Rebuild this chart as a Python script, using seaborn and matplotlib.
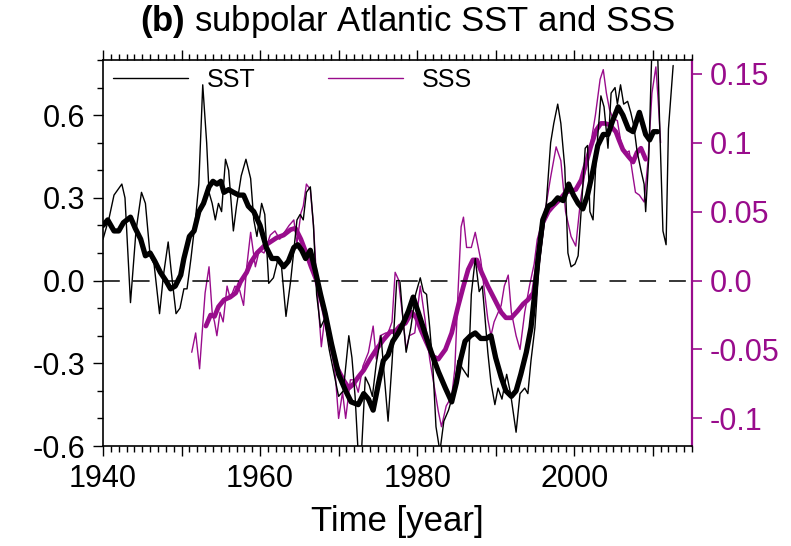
import matplotlib
matplotlib.use("Agg")
import matplotlib.pyplot as plt
import seaborn as sns
from matplotlib.ticker import MultipleLocator, FixedLocator

# ---------------- data ----------------
sst_yr = [1940.0, 1940.8, 1941.4, 1942.4, 1942.8, 1943.5, 1944.2, 1944.9, 1945.4, 1946.0,
          1946.5, 1947.2, 1947.7, 1948.3, 1948.7, 1949.3, 1949.8, 1950.3, 1950.7, 1951.2,
          1951.8, 1952.2, 1952.7, 1953.2, 1953.5, 1953.9, 1954.3, 1954.7, 1955.1, 1955.6,
          1956.0, 1956.6, 1957.0, 1957.6, 1958.2, 1958.8, 1959.2, 1959.6, 1960.2, 1960.6,
          1961.1, 1961.7, 1962.3, 1962.7, 1963.3, 1963.9, 1964.7, 1965.1, 1965.5, 1965.9,
          1966.4, 1966.8, 1967.2, 1967.7, 1968.2, 1968.8, 1969.5, 1970.0, 1970.6, 1971.3,
          1971.7, 1972.1, 1972.5, 1972.9, 1973.4, 1973.9, 1974.3, 1974.8, 1975.4, 1975.8,
          1976.3, 1976.8, 1977.4, 1977.8, 1978.2, 1978.6, 1979.2, 1979.8, 1980.4, 1980.8,
          1981.2, 1981.6, 1982.0, 1982.4, 1982.9, 1983.4, 1984.0, 1984.6, 1985.2, 1985.8,
          1986.5, 1986.9, 1987.4, 1987.9, 1988.3, 1988.6, 1989.0, 1989.4, 1989.9, 1990.3,
          1990.8, 1991.4, 1991.9, 1992.6, 1993.1, 1993.7, 1994.1, 1994.5, 1995.0, 1995.5,
          1996.4, 1997.0, 1997.4, 1997.9, 1998.3, 1998.8, 1999.2, 1999.6, 2000.1, 2000.5,
          2001.0, 2001.4, 2001.7, 2002.0, 2002.4, 2002.8, 2003.4, 2003.8, 2004.3, 2004.7,
          2005.2, 2005.5, 2005.9, 2006.3, 2006.8, 2007.2, 2007.6, 2008.0, 2008.5, 2008.9,
          2009.1, 2009.5, 2009.9, 2010.6, 2010.9, 2011.3, 2011.7, 2012.0, 2012.6]
sst = [0.15, 0.23, 0.31, 0.35, 0.30, -0.08, 0.18, 0.32, 0.28, 0.09,
       0.06, -0.12, 0.02, 0.14, 0.03, -0.12, -0.10, -0.03, -0.03, 0.08,
       0.23, 0.35, 0.71, 0.50, 0.32, 0.28, 0.22, 0.28, 0.25, 0.44,
       0.40, 0.18, 0.27, 0.38, 0.44, 0.37, 0.22, 0.16, 0.28, 0.24,
       -0.01, 0.01, 0.08, 0.06, -0.13, 0.00, 0.22, 0.24, 0.22, 0.32,
       0.34, 0.20, -0.05, -0.17, -0.14, -0.25, -0.35, -0.42, -0.40, -0.20,
       -0.28, -0.42, -0.63, -0.63, -0.35, -0.38, -0.42, -0.30, -0.20, -0.34,
       -0.51, -0.30, 0.00, 0.00, -0.14, -0.26, -0.17, -0.05, 0.01, -0.04,
       -0.05, -0.17, -0.31, -0.53, -0.62, -0.51, -0.47, -0.41, -0.29, -0.32,
       -0.35, -0.05, 0.08, -0.04, -0.02, -0.12, -0.26, -0.37, -0.45, -0.39,
       -0.43, -0.34, -0.41, -0.55, -0.41, -0.39, -0.41, -0.29, -0.17, 0.05,
       0.26, 0.50, 0.57, 0.64, 0.57, 0.41, 0.10, 0.05, 0.06, 0.09,
       0.30, 0.48, 0.49, 0.25, 0.22, 0.45, 0.67, 0.63, 0.48, 0.68,
       0.70, 0.64, 0.71, 0.64, 0.65, 0.61, 0.56, 0.47, 0.40, 0.35,
       0.25, 0.45, 0.85, 0.85, 0.55, 0.18, 0.13, 0.55, 0.78]

sst_smooth_yr = [1940.0, 1940.6, 1941.4, 1942.0, 1942.6, 1943.5, 1944.1, 1944.8, 1945.4, 1946.0,
                 1946.6, 1947.3, 1948.0, 1948.6, 1949.2, 1949.9, 1950.3, 1951.0, 1951.6, 1952.2,
                 1952.8, 1953.5, 1954.0, 1954.5, 1955.0, 1955.4, 1956.0, 1956.6, 1957.3, 1957.9,
                 1958.5, 1959.2, 1960.0, 1960.8, 1961.5, 1962.2, 1963.0, 1963.6, 1964.3, 1964.8,
                 1965.3, 1965.8, 1966.4, 1967.0, 1967.7, 1968.3, 1969.1, 1970.0, 1970.9, 1971.6,
                 1972.5, 1973.2, 1973.8, 1974.4, 1975.1, 1975.7, 1976.3, 1976.9, 1977.6, 1978.3,
                 1978.9, 1979.5, 1980.2, 1981.0, 1981.8, 1982.7, 1983.6, 1984.4, 1985.0, 1985.5,
                 1986.1, 1986.8, 1987.4, 1988.1, 1988.8, 1989.4, 1990.0, 1990.7, 1991.3, 1992.0,
                 1992.6, 1993.2, 1993.9, 1994.5, 1995.0, 1995.4, 1996.0, 1996.7, 1997.3, 1997.9,
                 1998.6, 1999.3, 1999.9, 2000.5, 2001.1, 2001.7, 2002.4, 2003.0, 2003.7, 2004.3,
                 2004.9, 2005.6, 2006.2, 2006.9, 2007.5, 2008.3, 2008.7, 2009.1, 2009.6, 2010.1,
                 2010.6]
sst_smooth = [0.20, 0.22, 0.18, 0.18, 0.21, 0.23, 0.19, 0.15, 0.09, 0.10,
              0.07, 0.03, 0.00, -0.03, -0.02, 0.02, 0.08, 0.16, 0.18, 0.25,
              0.28, 0.34, 0.36, 0.35, 0.36, 0.32, 0.33, 0.32, 0.31, 0.31,
              0.27, 0.25, 0.20, 0.12, 0.08, 0.08, 0.05, 0.07, 0.12, 0.13,
              0.11, 0.08, 0.11, 0.04, -0.05, -0.12, -0.23, -0.34, -0.40, -0.44,
              -0.45, -0.41, -0.43, -0.47, -0.37, -0.29, -0.27, -0.22, -0.19, -0.15,
              -0.11, -0.06, -0.12, -0.19, -0.26, -0.33, -0.39, -0.44, -0.37, -0.29,
              -0.22, -0.20, -0.19, -0.21, -0.21, -0.20, -0.28, -0.35, -0.40, -0.42,
              -0.40, -0.34, -0.26, -0.17, -0.04, 0.08, 0.22, 0.27, 0.28, 0.30,
              0.29, 0.35, 0.31, 0.28, 0.26, 0.31, 0.40, 0.49, 0.53, 0.53,
              0.58, 0.63, 0.60, 0.55, 0.54, 0.61, 0.57, 0.53, 0.51, 0.54,
              0.54]

sss_yr = [1951.3, 1951.8, 1952.3, 1952.6, 1953.0, 1953.5, 1953.9, 1954.2, 1954.5, 1954.9,
          1955.3, 1955.8, 1956.2, 1956.8, 1957.4, 1957.9, 1958.3, 1958.8, 1959.4, 1959.9,
          1960.5, 1961.3, 1961.9, 1962.5, 1963.1, 1963.7, 1964.3, 1964.7, 1965.2, 1965.5,
          1965.9, 1966.4, 1966.8, 1967.3, 1967.8, 1968.3, 1968.9, 1969.6, 1970.0, 1970.5,
          1970.9, 1971.5, 1972.0, 1972.5, 1973.1, 1973.8, 1974.4, 1974.8, 1975.3, 1976.0,
          1976.3, 1976.8, 1977.2, 1977.6, 1978.2, 1978.6, 1979.0, 1979.7, 1980.4, 1981.0,
          1981.6, 1982.3, 1982.7, 1983.1, 1983.7, 1984.4, 1984.8, 1985.2, 1985.6, 1985.9,
          1986.3, 1986.9, 1987.4, 1988.1, 1988.6, 1989.0, 1989.4, 1989.8, 1990.7, 1991.1,
          1991.6, 1992.0, 1992.6, 1993.1, 1993.7, 1994.3, 1994.9, 1995.3, 1995.8, 1996.4,
          1997.0, 1997.7, 1998.3, 1998.9, 1999.6, 2000.2, 2000.8, 2001.5, 2002.1, 2002.7,
          2003.3, 2003.7, 2004.1, 2004.5, 2004.9, 2005.5, 2005.9, 2006.4, 2007.0, 2007.5,
          2007.8, 2008.3, 2008.9, 2009.4, 2009.9, 2010.4, 2010.7, 2011.0]
sss = [-0.052, -0.038, -0.064, -0.040, -0.009, 0.010, -0.023, -0.030, -0.040, -0.023,
       -0.030, -0.004, -0.013, -0.004, -0.007, -0.018, 0.010, 0.035, 0.010, 0.022,
       0.020, 0.033, 0.036, 0.030, 0.035, 0.040, 0.044, 0.027, 0.049, 0.054,
       0.070, 0.066, 0.040, -0.009, -0.048, -0.024, -0.040, -0.070, -0.100, -0.081,
       -0.100, -0.072, -0.072, -0.081, -0.062, -0.052, -0.033, -0.057, -0.040, -0.038,
       -0.038, -0.030, 0.006, 0.001, -0.028, -0.050, -0.040, -0.038, -0.004, -0.028,
       -0.057, -0.081, -0.095, -0.106, -0.091, -0.084, -0.064, -0.009, 0.039, 0.046,
       0.024, 0.024, 0.035, 0.015, -0.009, -0.028, -0.040, -0.030, -0.018, -0.004,
       0.004, -0.023, -0.040, -0.050, -0.023, -0.004, 0.012, 0.030, 0.040, 0.054,
       0.075, 0.097, 0.087, 0.050, 0.032, 0.025, 0.058, 0.083, 0.099, 0.120,
       0.146, 0.153, 0.136, 0.124, 0.118, 0.116, 0.102, 0.092, 0.094, 0.075,
       0.064, 0.062, 0.057, 0.087, 0.136, 0.155, 0.130, 0.100]

sss_smooth_yr = [1953.1, 1953.7, 1954.2, 1954.7, 1955.4, 1956.2, 1956.9, 1957.5, 1958.3, 1958.8,
                 1959.6, 1960.5, 1961.3, 1962.1, 1963.0, 1963.9, 1964.5, 1965.2, 1966.0, 1966.5,
                 1967.2, 1968.1, 1968.9, 1969.7, 1970.6, 1971.3, 1971.9, 1972.5, 1973.2, 1974.0,
                 1974.8, 1975.7, 1976.6, 1977.2, 1977.8, 1978.5, 1979.3, 1979.9, 1980.5, 1981.2,
                 1982.0, 1982.7, 1983.6, 1984.4, 1985.2, 1985.9, 1986.5, 1987.1, 1987.6, 1988.2,
                 1989.0, 1989.9, 1990.7, 1991.3, 1992.0, 1992.8, 1993.5, 1994.1, 1994.8, 1995.3,
                 1995.6, 1996.0, 1996.7, 1997.3, 1998.2, 1998.9, 1999.5, 2000.2, 2000.9, 2001.5,
                 2002.1, 2002.8, 2003.4, 2003.9, 2004.5, 2005.3, 2005.7, 2006.2, 2006.9, 2007.5,
                 2008.0, 2008.5, 2009.1]
sss_smooth = [-0.033, -0.025, -0.026, -0.019, -0.014, -0.012, -0.009, -0.001, 0.006, 0.013,
              0.020, 0.025, 0.028, 0.031, 0.033, 0.037, 0.038, 0.030, 0.018, 0.010,
              0.000, -0.021, -0.043, -0.062, -0.072, -0.078, -0.075, -0.070, -0.065, -0.057,
              -0.050, -0.043, -0.037, -0.037, -0.033, -0.031, -0.023, -0.027, -0.036, -0.045,
              -0.055, -0.057, -0.050, -0.038, -0.019, -0.004, 0.008, 0.015, 0.015, 0.006,
              -0.004, -0.014, -0.023, -0.027, -0.027, -0.022, -0.017, -0.014, -0.009, 0.010,
              0.025, 0.042, 0.050, 0.054, 0.059, 0.064, 0.065, 0.066, 0.073, 0.085,
              0.097, 0.109, 0.114, 0.114, 0.113, 0.108, 0.102, 0.095, 0.090, 0.086,
              0.093, 0.096, 0.088]

x_ticks = [1940, 1950, 1960, 1970, 1980, 1990, 2000, 2010]
x_ticklabels = ["1940", "", "1960", "", "1980", "", "2000", ""]
y_ticks = [-0.6, -0.3, 0.0, 0.3, 0.6]
y_ticklabels = ["-0.6", "-0.3", "0.0", "0.3", "0.6"]
y2_ticks = [-0.1, -0.05, 0.0, 0.05, 0.1, 0.15]
y2_ticklabels = ["-0.1", "-0.05", "0.0", "0.05", "0.1", "0.15"]

# ---------------- style ----------------
sns.set_theme(style="ticks")
plt.rcParams["font.family"] = ["Liberation Sans", "DejaVu Sans"]
plt.rcParams["mathtext.fontset"] = "custom"
plt.rcParams["mathtext.rm"] = "Liberation Sans"
plt.rcParams["mathtext.bf"] = "Liberation Sans:bold"
plt.rcParams["text.color"] = "black"
plt.rcParams["axes.labelcolor"] = "black"
plt.rcParams["xtick.color"] = "black"
plt.rcParams["ytick.color"] = "black"
plt.rcParams["axes.edgecolor"] = "black"

PURPLE = "#990c8c"

fig = plt.figure(figsize=(7.91, 5.46), dpi=100)
ax = fig.add_axes([103 / 791, 1 - 446 / 546, 589 / 791, 386 / 546])
ax2 = ax.twinx()
ax.set_zorder(ax2.get_zorder() + 1)
ax.patch.set_visible(False)

# zero line
ax.axhline(0, color="black", lw=1.1, dashes=(11, 8.5), zorder=1)

# SSS on the right axis
sns.lineplot(x=sss_yr, y=sss, ax=ax2, color=PURPLE, lw=1.0, sort=False,
             estimator=None, label="SSS", legend=False)
l_sss = ax2.lines[-1]
sns.lineplot(x=sss_smooth_yr, y=sss_smooth, ax=ax2, color=PURPLE, lw=3.4, sort=False,
             estimator=None, legend=False)

# SST on the left axis
sns.lineplot(x=sst_yr, y=sst, ax=ax, color="black", lw=1.0, sort=False,
             estimator=None, label="SST", legend=False)
l_sst = ax.lines[-1]
sns.lineplot(x=sst_smooth_yr, y=sst_smooth, ax=ax, color="black", lw=3.8, sort=False,
             estimator=None, legend=False)

# limits
ax.set_xlim(1940, 2015)
ax.set_ylim(-0.6, 0.8)
ax2.set_ylim(-0.12, 0.16)

# spines
for s in ["left", "top", "bottom"]:
    ax.spines[s].set_color("black")
    ax.spines[s].set_linewidth(1.2)
ax.spines["right"].set_visible(False)
for s in ["left", "top", "bottom"]:
    ax2.spines[s].set_visible(False)
ax2.spines["right"].set_color(PURPLE)
ax2.spines["right"].set_linewidth(1.6)

# ticks
ax.xaxis.set_major_locator(FixedLocator(x_ticks))
ax.set_xticklabels(x_ticklabels)
ax.xaxis.set_minor_locator(MultipleLocator(1))
ax.yaxis.set_major_locator(FixedLocator(y_ticks))
ax.set_yticklabels(y_ticklabels)
ax.yaxis.set_minor_locator(MultipleLocator(0.1))
ax.tick_params(axis="x", which="both", top=True, bottom=True, direction="out",
               color="black", labelcolor="black", width=1.0)
ax.tick_params(axis="x", which="major", length=7, labelsize=22, pad=6)
ax.tick_params(axis="x", which="minor", length=4)
ax.tick_params(axis="y", which="both", left=True, right=False, direction="out",
               color="black", labelcolor="black", width=1.0)
ax.tick_params(axis="y", which="major", length=7, labelsize=22, pad=6)
ax.tick_params(axis="y", which="minor", length=4)

ax2.yaxis.set_major_locator(FixedLocator(y2_ticks))
ax2.set_yticklabels(y2_ticklabels)
ax2.tick_params(axis="y", which="major", right=True, left=False, direction="out",
                length=7, width=1.2, color=PURPLE, labelcolor=PURPLE,
                labelsize=22, pad=6)
ax2.set_ylabel("")
ax.set_ylabel("")

ax.set_xlabel("Time [year]", fontsize=25, labelpad=8, color="black")

# legend
leg = ax.legend(handles=[l_sst, l_sss], labels=["SST", "SSS"], ncol=2,
                loc="upper left", bbox_to_anchor=(10 / 589, 1 - 8 / 386),
                frameon=False, fontsize=18, handlelength=3.0, handletextpad=0.75,
                columnspacing=2.9, borderaxespad=0, borderpad=0)
for t in leg.get_texts():
    t.set_color("black")

# title
fig.text(408 / 791, 1 - 22 / 546, r"$\mathbf{(b)}$ subpolar Atlantic SST and SSS",
         ha="center", va="center", fontsize=25, color="black")

fig.savefig("out.png", dpi=100)
